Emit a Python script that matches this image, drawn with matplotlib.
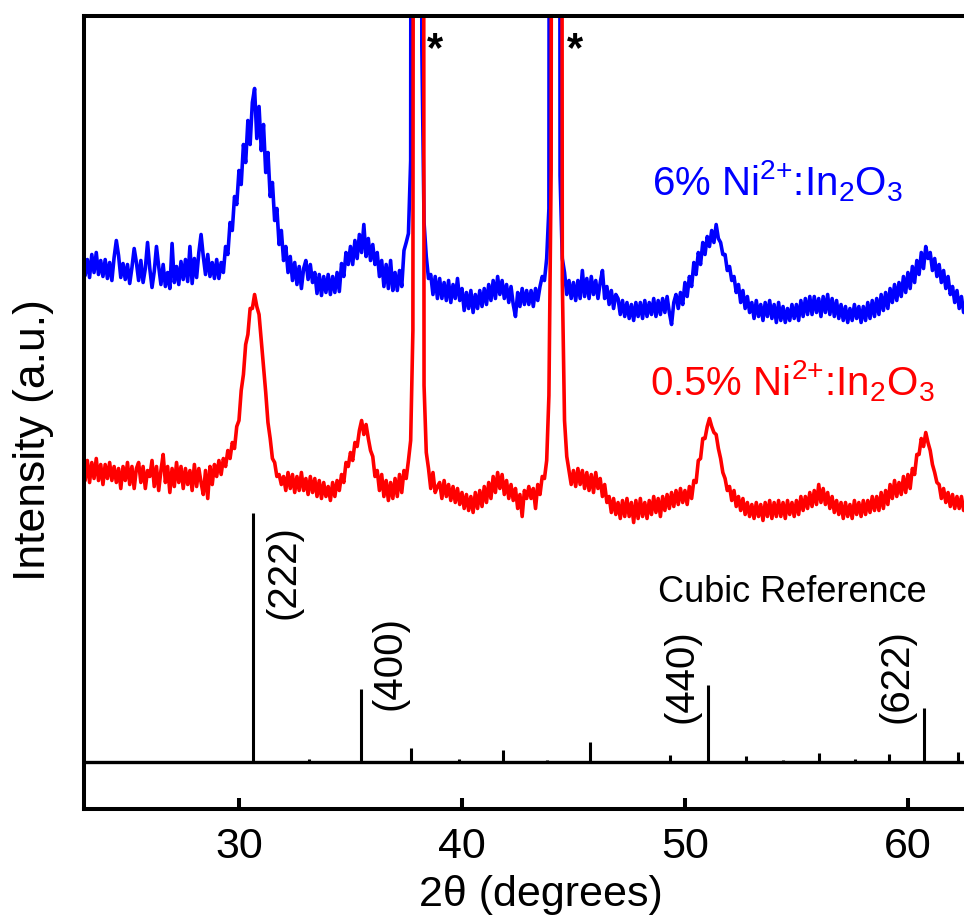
import numpy as np
import matplotlib
matplotlib.use("Agg")
import matplotlib.pyplot as plt

plt.rcParams['font.family'] = ['Liberation Sans', 'DejaVu Sans']
plt.rcParams['mathtext.fontset'] = 'custom'
plt.rcParams['mathtext.rm'] = 'Liberation Sans'
plt.rcParams['mathtext.it'] = 'Liberation Sans:italic'
plt.rcParams['mathtext.bf'] = 'Liberation Sans:bold'

# 2-theta sampling grid (degrees), 0.1 deg steps from 23.0 to 62.6
two_theta = np.round(np.arange(230, 627) * 0.1, 1)

# 6% Ni2+:In2O3 intensity (a.u.)
ni_6 = [
    82, 63, 79, 61, 84, 66, 86, 64, 78, 62,           # 23
    79, 60, 76, 58, 81, 98, 83, 61, 75, 59,           # 24
    74, 55, 71, 90, 76, 58, 78, 56, 70, 96,           # 25
    70, 51, 67, 92, 72, 54, 74, 52, 66, 50,           # 26
    95, 56, 72, 54, 77, 59, 79, 57, 92, 55,           # 27
    80, 61, 86, 104, 82, 64, 84, 62, 76, 60,          # 28
    79, 60, 76, 66, 92, 84, 116, 108, 142, 134,       # 29
    168, 154, 194, 176, 218, 194, 236, 250, 200, 232,  # 30
    188, 214, 166, 186, 142, 156, 118, 130, 94, 108,  # 31
    78, 92, 66, 82, 58, 76, 54, 72, 50, 70,           # 32
    78, 59, 74, 56, 66, 45, 64, 43, 62, 46,           # 33
    64, 44, 62, 46, 66, 47, 75, 62, 86, 74,           # 34
    92, 74, 98, 80, 104, 86, 114, 82, 100, 78,        # 35
    94, 74, 86, 62, 78, 52, 74, 50, 78, 48,           # 36
    66, 48, 68, 52, 88, 96, 105, 178, 2800, 2800,     # 37
    2800, 2800, 293, 116, 82, 60, 64, 44, 62, 40,     # 38
    60, 40, 56, 38, 58, 36, 54, 40, 60, 38,           # 39
    50, 28, 46, 30, 48, 26, 44, 30, 48, 32,           # 40
    50, 34, 54, 38, 58, 40, 62, 44, 58, 40,           # 41
    54, 36, 52, 34, 22, 46, 32, 50, 34, 48,           # 42
    34, 48, 32, 50, 38, 52, 62, 58, 80, 130,          # 43
    2800, 2800, 2800, 2800, 163, 80, 66, 44, 58, 40,  # 44
    56, 38, 58, 40, 68, 42, 60, 40, 62, 44,           # 45
    58, 40, 56, 68, 40, 52, 34, 48, 30, 44,           # 46
    40, 24, 38, 22, 36, 20, 34, 18, 36, 22,           # 47
    36, 20, 38, 22, 36, 24, 40, 22, 38, 24,           # 48
    40, 26, 42, 26, 14, 36, 44, 30, 46, 34,           # 49
    56, 42, 62, 52, 76, 64, 86, 74, 96, 84,           # 50
    102, 92, 108, 96, 114, 100, 96, 84, 84, 68,       # 51
    72, 58, 62, 46, 54, 36, 48, 30, 42, 26,           # 52
    36, 20, 38, 22, 34, 18, 36, 22, 38, 20,           # 53
    34, 16, 36, 18, 32, 16, 30, 18, 34, 20,           # 54
    34, 18, 38, 22, 40, 24, 42, 24, 42, 26,           # 55
    40, 22, 42, 26, 44, 24, 40, 22, 38, 20,           # 56
    34, 18, 32, 16, 30, 18, 34, 20, 32, 16,           # 57
    32, 18, 36, 20, 38, 22, 40, 24, 44, 28,           # 58
    46, 30, 50, 36, 54, 38, 56, 42, 62, 46,           # 59
    66, 50, 72, 56, 78, 64, 86, 70, 92, 80,           # 60
    86, 68, 80, 62, 74, 56, 68, 50, 62, 44,           # 61
    52, 36, 48, 30, 42, 26, 38,                       # 62
]

# 0.5% Ni2+:In2O3 intensity (a.u.)
ni_05 = [
    76, 58, 78, 56, 76, 60, 80, 58, 74, 54,           # 23
    74, 60, 76, 58, 72, 56, 70, 50, 72, 58,           # 24
    76, 54, 72, 50, 70, 76, 56, 72, 50, 68,           # 25
    62, 78, 52, 72, 48, 68, 84, 56, 72, 46,           # 26
    70, 52, 76, 56, 72, 50, 70, 54, 68, 48,           # 27
    74, 52, 70, 56, 44, 68, 40, 72, 54, 74,           # 28
    62, 78, 64, 80, 72, 88, 80, 96, 90, 112,          # 29
    118, 148, 164, 194, 204, 230, 230, 244, 232, 224,  # 30
    198, 172, 146, 116, 100, 80, 76, 62, 64, 54,      # 31
    62, 48, 66, 50, 64, 46, 62, 48, 66, 48,           # 32
    60, 44, 62, 46, 60, 42, 58, 40, 56, 42,           # 33
    52, 38, 56, 42, 58, 48, 64, 56, 76, 72,           # 34
    86, 78, 96, 92, 108, 118, 104, 114, 100, 88,      # 35
    82, 62, 68, 48, 64, 42, 58, 38, 56, 40,           # 36
    60, 42, 64, 46, 68, 60, 78, 98, 208, 3000,        # 37
    3000, 3000, 3000, 153, 86, 70, 50, 66, 46, 52,    # 38
    56, 40, 58, 42, 54, 38, 52, 36, 50, 34,           # 39
    46, 30, 44, 28, 42, 26, 46, 30, 48, 32,           # 40
    52, 36, 56, 40, 62, 46, 66, 50, 64, 44,           # 41
    58, 40, 54, 38, 50, 30, 44, 22, 48, 40,           # 42
    52, 40, 50, 30, 54, 44, 62, 60, 78, 143,          # 43
    368, 3000, 3000, 3000, 3000, 258, 118, 82, 68, 54,  # 44
    68, 52, 70, 54, 68, 50, 66, 48, 64, 46,           # 45
    66, 50, 60, 42, 54, 36, 42, 26, 40, 24,           # 46
    36, 20, 38, 22, 40, 22, 36, 16, 38, 20,           # 47
    40, 22, 36, 20, 38, 24, 42, 26, 40, 22,           # 48
    42, 28, 44, 30, 46, 32, 48, 34, 50, 36,           # 49
    48, 34, 52, 40, 58, 56, 78, 80, 100, 100,         # 50
    112, 120, 112, 106, 104, 90, 80, 66, 60, 48,      # 51
    52, 38, 48, 32, 42, 28, 40, 24, 36, 22,           # 52
    34, 20, 36, 22, 34, 18, 36, 22, 38, 20,           # 53
    36, 22, 38, 22, 36, 20, 38, 24, 36, 22,           # 54
    38, 24, 42, 28, 42, 30, 46, 32, 48, 34,           # 55
    54, 36, 50, 34, 46, 30, 42, 26, 38, 24,           # 56
    36, 20, 36, 22, 34, 20, 38, 24, 36, 22,           # 57
    38, 24, 38, 26, 42, 28, 42, 28, 46, 30,           # 58
    48, 34, 54, 40, 58, 42, 56, 44, 62, 46,           # 59
    64, 50, 70, 64, 84, 84, 100, 92, 106, 96,         # 60
    88, 74, 66, 56, 54, 40, 50, 36, 46, 32,           # 61
    44, 30, 42, 30, 42, 28, 40,                       # 62
]

# Cubic In2O3 reference pattern: positions (deg) and relative intensities (%)
ref_pos = [30.63, 33.14, 35.46, 37.70, 39.85, 41.84, 43.83, 45.73, 49.35,
           51.05, 52.72, 54.39, 56.01, 57.61, 59.15, 60.70, 62.24]
ref_int = [100, 1.2, 29.3, 5.6, 1.2, 4.8, 0.8, 8.0, 2.8,
           30.9, 2.4, 0.8, 3.6, 1.2, 3.2, 21.3, 4.0]
hkl_labels = ['(222)', '(400)', '(440)', '(622)']

# substrate reflections marked with an asterisk
star_pos = [38.78, 45.06]

fig = plt.figure(figsize=(9.64, 9.16), dpi=100)
ax = fig.add_axes([84 / 964, 107.5 / 916, 914 / 964, 792.5 / 916])
ax.set_xlim(23.05, 64.04)
ax.set_ylim(0, 792.5)

blue_shift, red_shift, ref_base, ref_scale = 470, 270, 47, 2.49

ax.plot(two_theta, np.asarray(ni_6) + blue_shift, color='#0000ff', lw=2.6)
ax.plot(two_theta, np.asarray(ni_05) + red_shift, color='#ff0000', lw=2.6)

ax.axhline(ref_base, color='black', lw=2.4)
ax.vlines(ref_pos, ref_base, ref_base + ref_scale * np.asarray(ref_int),
          color='black', lw=2.2)

hkl_xy = [(32.0, 236), (36.76, 146), (49.85, 132), (59.49, 132)]
for lab, (tx, ty) in zip(hkl_labels, hkl_xy):
    ax.text(tx, ty, lab, rotation=90, ha='center', va='center', fontsize=29)

for sx in star_pos:
    ax.text(sx, 758, '*', ha='center', va='center', fontsize=30,
            fontweight='bold')

ax.text(48.51, 613, r'6% Ni$^{2{+}}$:In$_{2}$O$_{3}$',
        color='#0000ff', fontsize=29, ha='left', va='baseline')
ax.text(48.42, 413, r'0.5% Ni$^{2{+}}$:In$_{2}$O$_{3}$',
        color='#ff0000', fontsize=29, ha='left', va='baseline')
ax.text(48.77, 206, 'Cubic Reference', color='black', fontsize=26,
        ha='left', va='baseline')

for side in ['left', 'top', 'bottom']:
    ax.spines[side].set_linewidth(2.9)
ax.spines['right'].set_visible(False)

ax.set_xticks([30, 40, 50, 60])
ax.set_yticks([])
ax.tick_params(axis='x', direction='in', length=7.7, width=2.9,
               labelsize=31, pad=13, top=False)

fig.text(541 / 964, 1 - 895 / 916, '2θ (degrees)', ha='center', va='center',
         fontsize=31)
fig.text(34 / 964, 1 - 440 / 916, 'Intensity (a.u.)', rotation=90,
         ha='center', va='center', fontsize=32)

fig.savefig('out.png', dpi=100)
